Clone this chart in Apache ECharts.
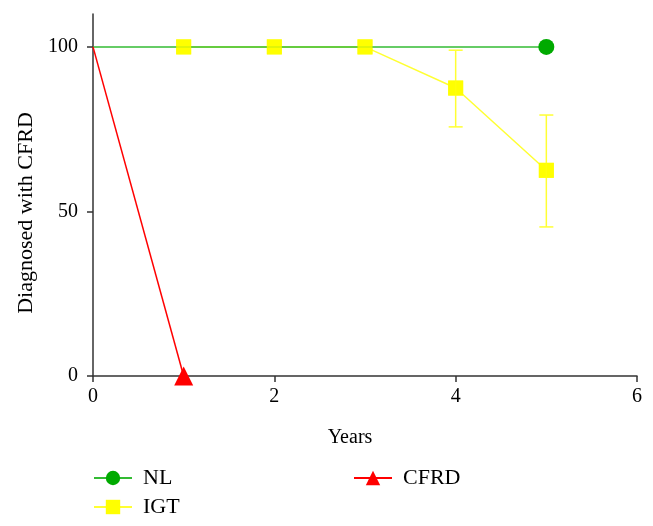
<!DOCTYPE html>
<html>
<head>
<meta charset="utf-8">
<script src="https://cdn.jsdelivr.net/npm/echarts@6/dist/echarts.min.js"></script>
<style>html,body{margin:0;padding:0;background:#fff}#c{width:653px;height:526px}</style>
</head>
<body>
<div id="c"></div>
<script>
var xTicks = [0, 2, 4, 6];
var yTicks = [0, 50, 100];
var nlData = [[0, 100], [5, 100]];
var igtData = [[1, 100], [2, 100], [3, 100], [4, 87.5], [5, 62.5]];
var igtErr = [[4, 75.7, 99], [5, 45.3, 79.3]];
var cfrdData = [[0, 100], [1, 0]];

var FONT = '"Liberation Serif", "DejaVu Serif", serif';
var FS = 20;
function pts(arr) {
  return arr.map(function (d) {
    return d[0] === 0 ? { value: d, symbolSize: 0 } : { value: d };
  });
}
var chart = echarts.init(document.getElementById('c'));
var legendCommon = {
  orient: 'vertical', top: 467, padding: 0, itemWidth: 38, itemHeight: 18, itemGap: 7,
  textStyle: { fontFamily: FONT, fontSize: 22, color: '#000', padding: [0, 0, 0, 6] }
};
chart.setOption({
  animation: false,
  backgroundColor: '#fff',
  textStyle: { fontFamily: FONT },
  grid: { left: 93, right: 16, top: 14, bottom: 150 },
  legend: [
    Object.assign({ data: ['NL', 'IGT'], left: 93 }, legendCommon),
    Object.assign({ data: ['CFRD'], left: 353 }, legendCommon)
  ],
  graphic: [
    { type: 'text', x: 26, y: 213, rotation: Math.PI / 2,
      style: { text: 'Diagnosed with CFRD', fontFamily: FONT, fontSize: 22, fill: '#000', align: 'center', verticalAlign: 'middle' } },
    { type: 'text', x: 350, y: 438,
      style: { text: 'Years', fontFamily: FONT, fontSize: FS, fill: '#000', align: 'center', verticalAlign: 'middle' } }
  ],
  xAxis: {
    type: 'value', min: 0, max: 6, interval: 2,
    axisLine: { show: true, lineStyle: { color: '#333', width: 1.5 } },
    axisTick: { show: true, length: 6, lineStyle: { color: '#333', width: 1.5 } },
    axisLabel: { fontFamily: FONT, fontSize: FS, color: '#000', margin: 11, customValues: xTicks },
    splitLine: { show: false }
  },
  yAxis: {
    type: 'value', min: 0, max: 110,
    axisLine: { show: true, lineStyle: { color: '#333', width: 1.5 } },
    axisTick: { show: true, length: 6, lineStyle: { color: '#333', width: 1.5 }, customValues: yTicks },
    axisLabel: { fontFamily: FONT, fontSize: FS, color: '#000', margin: 15, customValues: yTicks },
    splitLine: { show: false }
  },
  series: [
    {
      name: 'IGT', type: 'line', data: pts(igtData),
      symbol: 'rect', symbolSize: 15,
      lineStyle: { color: '#ffff33', width: 1.5 },
      itemStyle: { color: '#ffff00' }, z: 1
    },
    {
      name: 'NL', type: 'line', data: pts(nlData),
      symbol: 'circle', symbolSize: 16,
      lineStyle: { color: '#33bb33', width: 1.5 },
      itemStyle: { color: '#00aa00' }, z: 2
    },
    {
      name: 'IGTerr', type: 'custom', data: igtErr, z: 3,
      renderItem: function (params, api) {
        var x = api.value(0), lo = api.value(1), hi = api.value(2);
        var pl = api.coord([x, lo]), ph = api.coord([x, hi]);
        var w = 7;
        var st = { stroke: '#ffff33', lineWidth: 1.5 };
        return { type: 'group', children: [
          { type: 'line', shape: { x1: ph[0], y1: ph[1], x2: pl[0], y2: pl[1] }, style: st },
          { type: 'line', shape: { x1: ph[0] - w, y1: ph[1], x2: ph[0] + w, y2: ph[1] }, style: st },
          { type: 'line', shape: { x1: pl[0] - w, y1: pl[1], x2: pl[0] + w, y2: pl[1] }, style: st }
        ] };
      }
    },
    {
      name: 'IGTmarks', type: 'scatter', data: igtData,
      symbol: 'rect', symbolSize: 15,
      itemStyle: { color: '#ffff00' }, z: 4
    },
    {
      name: 'CFRD', type: 'line', data: pts(cfrdData),
      symbol: 'triangle', symbolSize: 19,
      lineStyle: { color: '#ff0000', width: 1.5 },
      itemStyle: { color: '#ff0000' }, z: 5
    }
  ]
});
</script>
</body>
</html>
